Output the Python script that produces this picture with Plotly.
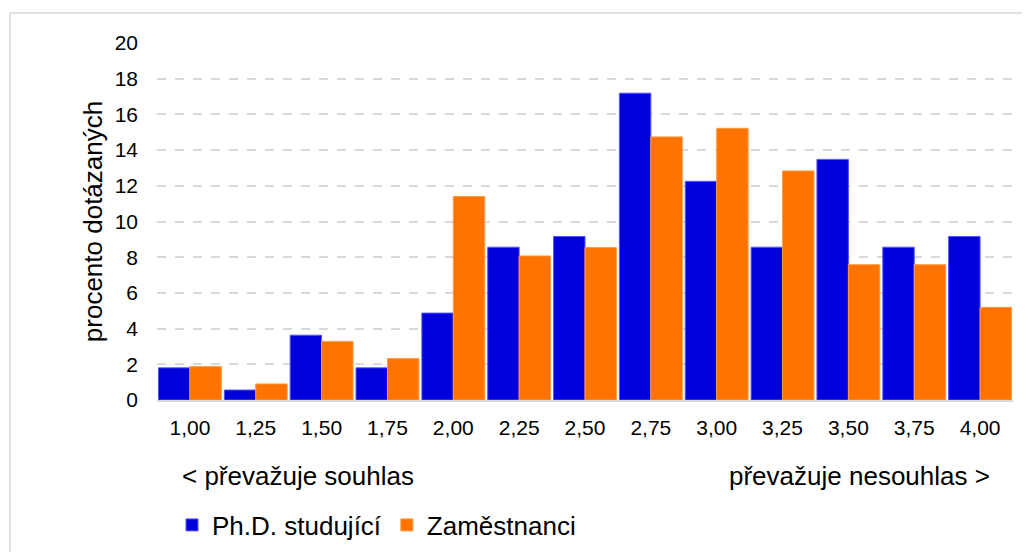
import plotly.graph_objects as go

categories = ["1,00", "1,25", "1,50", "1,75", "2,00", "2,25", "2,50",
              "2,75", "3,00", "3,25", "3,50", "3,75", "4,00"]
phd_values = [1.8, 0.56, 3.63, 1.8, 4.87, 8.56, 9.16, 17.19, 12.25, 8.56, 13.48, 8.56, 9.16]
staff_values = [1.87, 0.9, 3.28, 2.32, 11.4, 8.07, 8.54, 14.74, 15.22, 12.83, 7.58, 7.58, 5.19]
series_names = ["Ph.D. studující", "Zaměstnanci"]
y_ticks = [0, 2, 4, 6, 8, 10, 12, 14, 16, 18, 20]

FONT = "Liberation Sans, Arial, sans-serif"
OFF = 8  # page body margin
W, H = 1030 - OFF, 552 - OFF
# plot area in page coordinates
PL, PR, PT, PB = 157, 1013, 43, 400
L, T = PL - OFF, PT - OFF
R, B = W - (PR - OFF), H - (PB - OFF)
pw, ph = PR - PL, PB - PT

def px_x(x):
    return (x - PL) / pw

def px_y(y):
    return (PB - y) / ph

fig = go.Figure()
fig.add_trace(go.Bar(x=categories, y=phd_values, name=series_names[0],
                     marker=dict(color="#0000dd", line=dict(color="#5555ff", width=1))))
fig.add_trace(go.Bar(x=categories, y=staff_values, name=series_names[1],
                     marker=dict(color="#ff7300", line=dict(color="#ff9a40", width=1))))

fig.update_layout(
    width=W, height=H,
    margin=dict(l=L, r=R, t=T, b=B, autoexpand=False),
    paper_bgcolor="white", plot_bgcolor="white",
    barmode="group", bargap=0.045, bargroupgap=0,
    font=dict(family=FONT, color="#000000", size=21),
    showlegend=True,
    legend=dict(orientation="h", x=px_x(172), xanchor="left", y=px_y(525), yanchor="middle",
                font=dict(size=26, family=FONT), itemwidth=30, traceorder="normal",
                bgcolor="rgba(0,0,0,0)", itemclick=False),
    xaxis=dict(type="category", showgrid=False, showline=True, linecolor="#d9d9d9", linewidth=1.5,
               ticks="outside", ticklen=0, ticklabelstandoff=8,
               tickfont=dict(size=21, family=FONT), automargin=False),
    yaxis=dict(range=[0, 20], tickvals=y_ticks, showgrid=True, gridcolor="#d9d9d9", gridwidth=1.5,
               griddash="dash", zeroline=False, showline=False, ticks="", ticklabelstandoff=18,
               tickfont=dict(size=21, family=FONT), automargin=False,
               title=dict(text="procento dotázaných", font=dict(size=26, family=FONT), standoff=4)),
    annotations=[
        dict(text="< převažuje souhlas", xref="paper", yref="paper", x=px_x(180), y=px_y(476),
             xanchor="left", yanchor="middle", showarrow=False, font=dict(size=26, family=FONT)),
        dict(text="převažuje nesouhlas >", xref="paper", yref="paper", x=px_x(992), y=px_y(476),
             xanchor="right", yanchor="middle", showarrow=False, font=dict(size=26, family=FONT)),
    ],
    shapes=[
        dict(type="rect", xref="paper", yref="paper", x0=px_x(10), x1=px_x(1045), y0=px_y(570), y1=px_y(13),
             line=dict(color="#d9d9d9", width=1.5), fillcolor="rgba(0,0,0,0)", layer="below"),
    ],
)

fig.write_html("out.html")
